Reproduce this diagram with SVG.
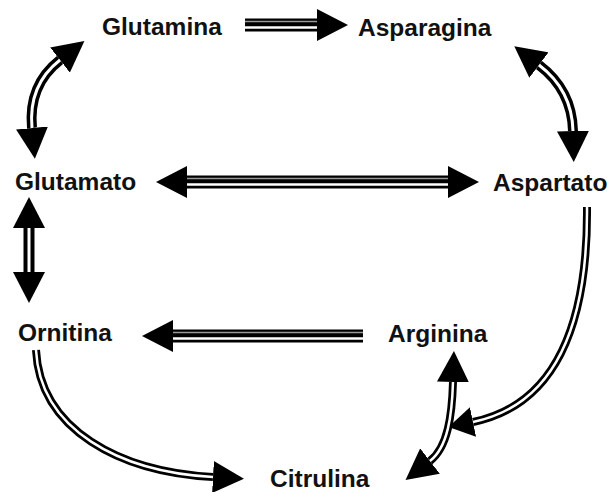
<svg xmlns="http://www.w3.org/2000/svg" width="607" height="492" viewBox="0 0 607 492">
<style>
  .lbl { font-family: "Liberation Sans", Arial, sans-serif; font-weight: bold; font-size: 24.5px; fill: #111; }
  .sh { fill: none; stroke: #000; stroke-linecap: butt; }
  .wide { stroke-width: 13; }
  .mid { stroke-width: 11; }
  .thin { stroke-width: 8; }
  .in { fill: none; stroke: #fff; stroke-linecap: butt; }
  .gr { fill: none; stroke: #999; stroke-width: 1.5; }
</style>
<defs>
  <marker id="ah" markerUnits="userSpaceOnUse" markerWidth="31" markerHeight="32" viewBox="0 0 31 32" refX="0" refY="16" orient="auto-start-reverse">
    <path d="M0,0 L31,16 L0,32 Z" fill="#000"/>
  </marker>
  <marker id="ahs" markerUnits="userSpaceOnUse" markerWidth="25" markerHeight="30" viewBox="0 0 25 30" refX="0" refY="15" orient="auto-start-reverse">
    <path d="M0,0 L25,15 L0,30 Z" fill="#000"/>
  </marker>
</defs>
<rect width="607" height="492" fill="#fff"/>
<g id="connectors">
  <!-- Glutamina -> Asparagina -->
  <g id="c-glutamina-asparagina">
    <line class="sh wide" x1="245" y1="25" x2="317" y2="25" marker-end="url(#ah)"/>
    <line class="gr" x1="245" y1="21.5" x2="317" y2="21.5"/>
    <line class="in" stroke-width="2.5" x1="245" y1="27.5" x2="317" y2="27.5"/>
  </g>
  <!-- Glutamato <-> Aspartato -->
  <g id="c-glutamato-aspartato">
    <line class="sh wide" x1="187" y1="182" x2="448" y2="182" marker-start="url(#ah)" marker-end="url(#ah)"/>
    <line class="gr" x1="187" y1="178.5" x2="448" y2="178.5"/>
    <line class="in" stroke-width="2.5" x1="187" y1="184.5" x2="448" y2="184.5"/>
  </g>
  <!-- Arginina -> Ornitina -->
  <g id="c-arginina-ornitina">
    <line class="sh wide" x1="363" y1="336" x2="173" y2="336" marker-end="url(#ah)"/>
    <line class="gr" x1="363" y1="332.5" x2="173" y2="332.5"/>
    <line class="in" stroke-width="2.5" x1="363" y1="338.5" x2="173" y2="338.5"/>
  </g>
  <!-- Glutamina <-> Glutamato -->
  <g id="c-glutamina-glutamato">
    <path class="sh" stroke-width="10" d="M60 60 Q28 85 32 128" marker-start="url(#ah)" marker-end="url(#ah)"/>
    <path class="in" stroke-width="3" d="M60 60 Q28 85 32 128"/>
  </g>
  <!-- Asparagina <-> Aspartato -->
  <g id="c-asparagina-aspartato">
    <path class="sh" stroke-width="10" d="M539 65 Q572 90 573 131" marker-start="url(#ah)" marker-end="url(#ah)"/>
    <path class="in" stroke-width="3" d="M539 65 Q572 90 573 131"/>
  </g>
  <!-- Glutamato <-> Ornitina -->
  <g id="c-glutamato-ornitina">
    <path class="sh mid" d="M29 228 L29 272" marker-start="url(#ah)" marker-end="url(#ah)"/>
    <path class="in" stroke-width="3" d="M29 228 L29 272"/>
  </g>
  <!-- Ornitina -> Citrulina -->
  <g id="c-ornitina-citrulina">
    <path class="sh thin" d="M36 350 C40 430 120 472 213 477" marker-end="url(#ah)"/>
    <path class="in" stroke-width="2.5" d="M36 350 C40 430 120 472 213 477"/>
  </g>
  <!-- Aspartato -> Citrulina / Arginina -->
  <g id="c-aspartato-citrulina">
    <path class="sh thin" d="M587 207 C588 325 555 405 473 422" marker-end="url(#ahs)"/>
    <path class="in" stroke-width="2.5" d="M587 207 C588 325 555 405 473 422"/>
  </g>
  <!-- Arginina <-> Citrulina -->
  <g id="c-arginina-citrulina">
    <path class="sh thin" d="M453 382 C452 415 448 447 430 461" marker-start="url(#ah)" marker-end="url(#ah)"/>
    <path class="in" stroke-width="2.5" d="M453 382 C452 415 448 447 430 461"/>
  </g>
</g>
<g id="n-glutamina"><text class="lbl" x="102" y="35">Glutamina</text></g>
<g id="n-asparagina"><text class="lbl" x="358" y="36">Asparagina</text></g>
<g id="n-glutamato"><text class="lbl" x="15" y="190">Glutamato</text></g>
<g id="n-aspartato"><text class="lbl" x="493" y="191">Aspartato</text></g>
<g id="n-ornitina"><text class="lbl" x="18" y="341">Ornitina</text></g>
<g id="n-arginina"><text class="lbl" x="388" y="342">Arginina</text></g>
<g id="n-citrulina"><text class="lbl" x="270" y="487">Citrulina</text></g>
</svg>
